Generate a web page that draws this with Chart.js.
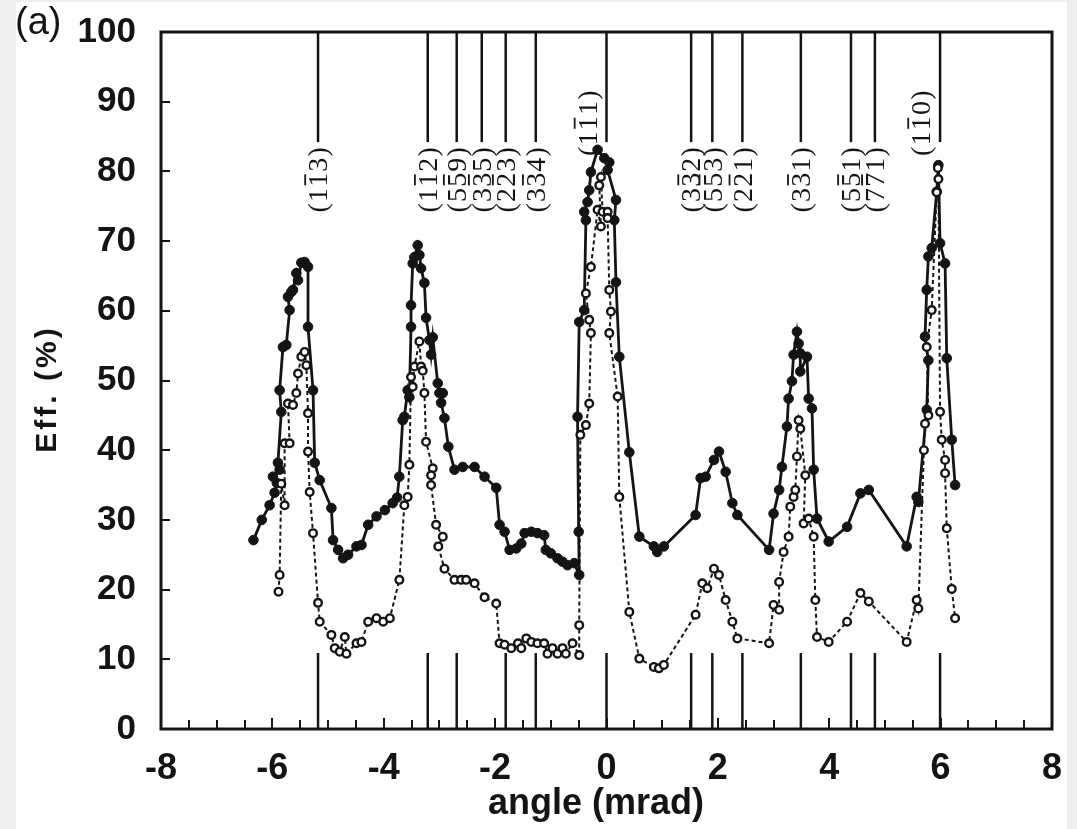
<!DOCTYPE html>
<html lang="en">
<head>
<meta charset="UTF-8">
<title>Eff. vs angle</title>
<script src="https://cdn.jsdelivr.net/npm/chart.js"></script>
<style>
  html, body { margin: 0; padding: 0; background: #eeeeee; }
  canvas { display: block; }
</style>
</head>
<body>
<canvas id="chartEff" width="1077" height="829"></canvas>
<script>
// filled circles, solid line: [angle (mrad), Eff. (%)]
const filledSeries = [
  [-6.34,27.1],[-6.19,30.0],[-6.05,32.1],[-5.96,33.9],[-5.92,35.3],[-5.99,36.2],[-5.87,37.2],[-5.90,38.2],
  [-5.84,45.5],[-5.87,48.6],[-5.81,54.8],[-5.75,55.1],[-5.69,60.1],[-5.72,62.0],[-5.66,62.7],[-5.63,63.0],
  [-5.57,65.4],[-5.54,64.4],[-5.48,66.9],[-5.42,67.0],[-5.36,66.3],[-5.36,57.7],[-5.27,48.6],[-5.24,38.2],
  [-5.15,35.7],[-4.94,31.7],[-4.91,27.1],[-4.82,25.7],[-4.73,24.5],[-4.64,25.0],[-4.49,26.2],[-4.40,26.4],
  [-4.28,29.3],[-4.13,30.5],[-3.98,31.4],[-3.84,32.4],[-3.76,33.2],[-3.72,36.2],[-3.66,44.3],[-3.63,44.8],
  [-3.57,48.6],[-3.54,47.6],[-3.51,57.7],[-3.51,60.8],[-3.48,66.8],[-3.45,67.7],[-3.39,69.4],[-3.36,68.0],
  [-3.33,66.1],[-3.27,64.0],[-3.24,59.0],[-3.18,55.8],[-3.15,53.7],[-3.12,56.2],[-3.03,49.6],[-3.00,48.2],
  [-2.94,48.2],[-2.97,46.8],[-2.91,44.6],[-2.84,40.5],[-2.73,37.2],[-2.58,37.6],[-2.37,37.6],[-2.19,36.2],
  [-1.98,34.6],[-1.92,29.3],[-1.83,28.3],[-1.74,25.7],[-1.62,25.9],[-1.53,26.6],[-1.47,28.1],[-1.35,28.3],
  [-1.24,28.1],[-1.12,27.8],[-1.09,25.7],[-1.00,25.2],[-0.88,24.5],[-0.79,24.0],[-0.70,23.5],[-0.58,23.8],
  [-0.49,22.1],[-0.50,28.3],[-0.52,44.8],[-0.49,58.4],[-0.40,60.1],[-0.37,73.0],[-0.40,74.2],[-0.34,75.6],
  [-0.31,77.3],[-0.28,79.9],[-0.16,83.1],[-0.04,81.9],[0.05,81.3],[0.02,80.2],[0.17,75.9],[0.14,73.0],
  [0.17,64.1],[0.23,53.4],[0.41,39.7],[0.59,27.6],[0.85,26.2],[0.91,25.4],[1.03,26.2],[1.60,30.7],
  [1.69,36.0],[1.78,36.2],[1.93,38.6],[2.02,39.8],[2.14,36.9],[2.26,32.4],[2.35,30.7],[2.92,25.7],
  [3.00,30.9],[3.10,34.3],[3.15,37.6],[3.24,43.4],[3.27,47.4],[3.33,49.9],[3.36,53.7],[3.42,57.0],
  [3.45,55.3],[3.48,53.9],[3.48,51.3],[3.60,53.4],[3.63,47.4],[3.69,46.0],[3.72,37.2],[3.78,30.2],
  [3.99,26.9],[4.32,29.0],[4.56,33.8],[4.71,34.3],[5.39,26.2],[5.57,33.3],[5.60,32.6],[5.75,45.8],
  [5.78,52.9],[5.72,56.3],[5.75,63.0],[5.78,67.8],[5.84,69.0],[5.93,77.1],[5.96,80.9],[5.99,69.7],
  [6.08,66.8],[6.11,53.2],[6.20,41.5],[6.26,35.0]
];

// open circles, dotted line
const openSeries = [
  [-5.89,19.7],[-5.87,22.1],[-5.84,35.2],[-5.78,32.1],[-5.78,41.0],[-5.69,41.0],[-5.72,46.7],[-5.63,46.5],
  [-5.57,48.2],[-5.54,51.0],[-5.48,53.4],[-5.42,54.1],[-5.39,52.2],[-5.36,45.3],[-5.36,39.8],[-5.33,34.0],
  [-5.27,28.1],[-5.18,18.1],[-5.15,15.4],[-4.94,13.5],[-4.88,11.6],[-4.79,11.1],[-4.70,13.2],[-4.67,10.8],
  [-4.49,12.3],[-4.40,12.5],[-4.28,15.4],[-4.13,15.9],[-4.01,15.4],[-3.89,15.9],[-3.72,21.4],[-3.63,32.1],
  [-3.57,33.3],[-3.54,37.9],[-3.51,50.5],[-3.48,49.1],[-3.45,52.0],[-3.36,55.6],[-3.33,52.0],[-3.30,51.4],
  [-3.27,48.2],[-3.24,41.2],[-3.12,37.4],[-3.15,36.4],[-3.15,35.0],[-3.06,29.3],[-2.94,27.6],[-3.02,26.2],
  [-2.91,23.0],[-2.73,21.4],[-2.61,21.4],[-2.52,21.4],[-2.37,20.9],[-2.19,18.9],[-1.98,18.0],[-1.92,12.3],
  [-1.83,12.1],[-1.71,11.6],[-1.59,12.3],[-1.53,11.6],[-1.44,13.0],[-1.35,12.5],[-1.24,12.3],[-1.12,12.3],
  [-1.06,10.8],[-0.97,11.6],[-0.88,10.8],[-0.79,11.6],[-0.73,10.8],[-0.61,12.3],[-0.49,10.6],[-0.49,14.9],
  [-0.47,42.2],[-0.37,43.6],[-0.31,46.7],[-0.28,56.8],[-0.31,58.7],[-0.37,62.5],[-0.28,66.3],[-0.16,74.5],
  [-0.10,72.1],[-0.13,78.0],[-0.10,79.2],[-0.07,74.2],[0.02,74.2],[0.02,73.3],[0.05,63.0],[0.08,59.9],
  [0.05,56.8],[0.20,47.7],[0.23,33.3],[0.41,16.8],[0.59,10.1],[0.85,8.9],[0.94,8.7],[1.03,9.2],
  [1.60,16.4],[1.72,20.9],[1.81,20.2],[1.93,23.0],[2.02,22.1],[2.14,18.5],[2.26,15.4],[2.35,13.0],
  [2.92,12.3],[3.00,17.8],[3.10,17.1],[3.10,21.1],[3.18,25.4],[3.27,27.6],[3.30,31.9],[3.36,33.3],
  [3.39,34.3],[3.42,39.1],[3.45,44.3],[3.48,43.1],[3.57,36.4],[3.54,29.5],[3.63,30.2],[3.72,27.6],
  [3.75,18.5],[3.78,13.2],[3.99,12.5],[4.32,15.4],[4.56,19.5],[4.71,18.3],[5.39,12.5],[5.57,18.5],
  [5.60,17.3],[5.70,40.0],[5.72,43.8],[5.78,45.0],[5.75,54.8],[5.84,60.1],[5.93,77.0],[5.95,80.5],
  [5.96,78.9],[5.99,45.5],[6.02,41.5],[6.08,38.6],[6.08,36.7],[6.11,28.8],[6.20,20.1],[6.26,15.9]
];

// crystal planes marked along the top edge (angle, Miller indices)
const planeAngle = [-5.18, -3.21, -2.69, -2.24, -1.81, -1.27, 0, 1.52, 1.90, 2.44, 3.49, 4.39, 4.82, 5.99];
const planeHkl = [
  [1,-1,3], [1,-1,2], [5,-5,9], [3,-3,5], [2,-2,3], [3,-3,4], [1,-1,1],
  [3,-3,2], [5,-5,3], [2,-2,1], [3,-3,1], [5,-5,1], [7,-7,1], [1,-1,0]
];
// short marks standing on the bottom axis
const lowerMarkAngle = [-5.18, -3.21, -2.69, -1.81, -1.27, 0, 1.52, 1.90, 2.44, 3.49, 4.39, 4.82, 5.99];

const xTickValues = [-8, -6, -4, -2, 0, 2, 4, 6, 8];
const yTickValues = [0, 10, 20, 30, 40, 50, 60, 70, 80, 90, 100];

const ink = '#141414';
const sans = '"Liberation Sans", Arial, sans-serif';
const toXY = arr => arr.map(p => ({ x: p[0], y: p[1] }));

// frame, inner ticks, plane lines and their labels, axis titles
const planeMarks = {
    id: 'planeMarks',
    beforeDraw(chart) {
        const ctx = chart.ctx;
        ctx.save();
        ctx.fillStyle = '#ffffff';
        ctx.fillRect(16, 2, 1051, chart.height - 2);
        ctx.restore();
    },
    beforeDatasetsDraw(chart) {
        const { ctx, chartArea: a, scales: { x, y } } = chart;
        ctx.save();
        ctx.strokeStyle = ink;
        ctx.fillStyle = ink;
        ctx.lineCap = 'butt';

        function seg(x1, y1, x2, y2) {
            ctx.beginPath();
            ctx.moveTo(x1, y1);
            ctx.lineTo(x2, y2);
            ctx.stroke();
        }

        // ticks pointing inward
        ctx.lineWidth = 2;
        for (let v = -7.5; v < 8; v += 0.5) {
            const px = Math.round(x.getPixelForValue(v));
            const len = xTickValues.includes(v) ? 11 : 9;
            seg(px, a.bottom, px, a.bottom - len);
        }
        for (let v = 10; v < 100; v += 10) {
            const py = Math.round(y.getPixelForValue(v));
            seg(a.left, py, a.left + 9, py);
        }

        // plane lines
        ctx.lineWidth = 2.5;
        const upperEnd = y.getPixelForValue(84.2);
        planeAngle.forEach(v => {
            const px = x.getPixelForValue(v);
            seg(px, a.top, px, upperEnd);
        });
        const lowerTop = y.getPixelForValue(10.9);
        lowerMarkAngle.forEach(v => {
            const px = x.getPixelForValue(v);
            seg(px, lowerTop, px, a.bottom);
        });

        // frame
        ctx.lineWidth = 3;
        ctx.strokeRect(a.left, a.top, a.right - a.left, a.bottom - a.top);

        // plane labels, rotated to read upward
        planeHkl.forEach((hkl, i) => {
            const px = x.getPixelForValue(planeAngle[i]);
            const beside = hkl[0] === 1 && hkl[2] <= 1;
            if (beside) {
                drawHkl(ctx, hkl, px - 19, y.getPixelForValue(91.6));
            } else {
                drawHkl(ctx, hkl, px, upperEnd + 5);
            }
        });
        ctx.restore();
    },
    afterDraw(chart) {
        const ctx = chart.ctx;
        ctx.save();
        ctx.fillStyle = ink;
        ctx.font = '38px ' + sans;
        ctx.textBaseline = 'top';
        ctx.fillText('(a)', 15, 5);

        // axis titles
        ctx.font = 'bold 36px ' + sans;
        ctx.textAlign = 'center';
        ctx.textBaseline = 'alphabetic';
        ctx.fillText('angle (mrad)', 596, 814);

        ctx.translate(56, 389);
        ctx.rotate(-Math.PI / 2);
        ctx.font = 'bold 30px ' + sans;
        ctx.letterSpacing = '3px';
        ctx.fillText('Eff. (%)', 0, 0);
        ctx.restore();
    }
};

function drawHkl(ctx, hkl, cx, yTop) {
    const size = 28;
    const gap = 1.2;
    ctx.save();
    ctx.translate(cx, yTop);
    ctx.rotate(-Math.PI / 2);
    ctx.font = size + 'px "Liberation Serif", "Times New Roman", serif';
    ctx.textBaseline = 'alphabetic';
    const parts = ['('].concat(hkl.map(n => String(Math.abs(n)))).concat([')']);
    const widths = parts.map(p => ctx.measureText(p).width);
    const total = widths.reduce((s, w) => s + w, 0) + gap * (parts.length - 1);
    const digitH = size * 0.66;
    const base = digitH / 2;
    let pos = -total;
    parts.forEach((p, i) => {
        ctx.fillText(p, pos, base);
        const n = hkl[i - 1];
        if (i > 0 && i < parts.length - 1 && n < 0) {
            ctx.fillRect(pos + 1.5, -base - 4.5, widths[i] - 3, 1.8);
        }
        pos += widths[i] + gap;
    });
    ctx.restore();
}

const tickFont = { family: sans, size: 35, weight: 'bold' };

new Chart(document.getElementById('chartEff').getContext('2d'), {
    type: 'scatter',
    data: {
        datasets: [
            {
                label: 'open',
                data: toXY(openSeries),
                showLine: true,
                tension: 0,
                borderColor: ink,
                borderWidth: 2,
                borderDash: [4, 3],
                pointRadius: 3.8,
                pointBorderWidth: 2.4,
                pointBorderColor: ink,
                pointBackgroundColor: '#ffffff',
                order: 0
            },
            {
                label: 'filled',
                data: toXY(filledSeries),
                showLine: true,
                tension: 0,
                borderColor: ink,
                borderWidth: 2.8,
                pointRadius: 4.8,
                pointBorderWidth: 1,
                pointBorderColor: ink,
                pointBackgroundColor: ink,
                order: 1
            }
        ]
    },
    options: {
        responsive: false,
        animation: false,
        devicePixelRatio: 1,
        layout: { padding: { top: 32, right: 25, left: 0, bottom: 0 } },
        plugins: {
            legend: { display: false },
            tooltip: { enabled: false }
        },
        scales: {
            x: {
                type: 'linear',
                min: -8,
                max: 8,
                afterBuildTicks: s => { s.ticks = xTickValues.map(v => ({ value: v })); },
                afterFit: s => { s.height = 100; s.paddingLeft = 0; s.paddingRight = 0; },
                grid: { display: false },
                border: { display: false },
                ticks: { color: ink, font: { family: sans, size: 36, weight: 'bold' }, padding: 10, maxRotation: 0, autoSkip: false }
            },
            y: {
                type: 'linear',
                min: 0,
                max: 100,
                afterBuildTicks: s => { s.ticks = yTickValues.map(v => ({ value: v })); },
                afterFit: s => { s.width = 161; s.paddingTop = 0; s.paddingBottom = 0; },
                grid: { display: false },
                border: { display: false },
                ticks: { color: ink, font: tickFont, padding: 17 }
            }
        }
    },
    plugins: [planeMarks]
});
</script>
</body>
</html>
